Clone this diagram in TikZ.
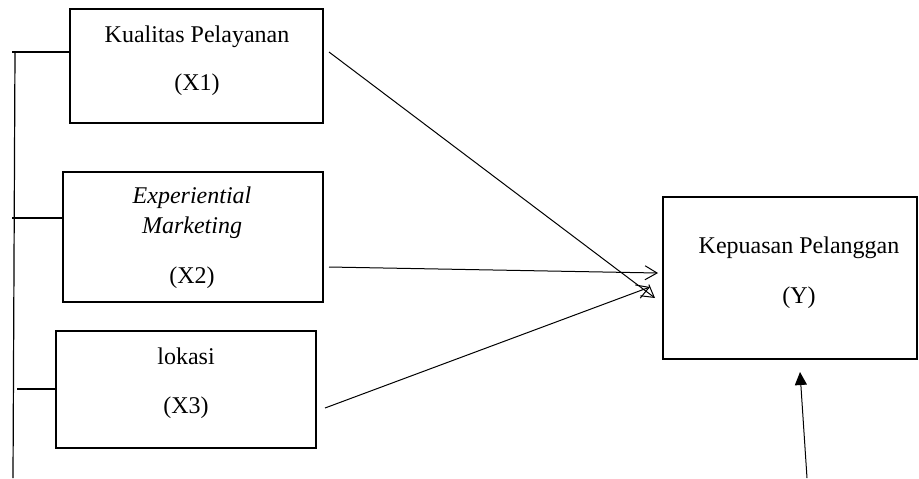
\documentclass[tikz,border=0pt]{standalone}
\usepackage{fontspec}
\setmainfont{Liberation Serif}
\usetikzlibrary{arrows.meta,calc}
\begin{document}
\begin{tikzpicture}[x=0.5pt,y=-0.5pt,
  box/.style={draw,line width=1pt,inner sep=0pt},
  txt/.style={anchor=base,inner sep=0pt,font=\fontsize{12}{14}\selectfont},
  conn/.style={line width=0.5pt,-{Straight Barb[length=6pt,width=7pt]}},
  up/.style={line width=0.5pt,-{Triangle[length=6.5pt,width=6pt]}},
  brk/.style={line width=0.6pt}]
\useasboundingbox (0,0) rectangle (919,478);
% boxes
\node[box,minimum width=126.5pt,minimum height=57pt] (x1) at (196.5,66) {};
\node[box,minimum width=130pt,minimum height=65pt] (x2) at (193,237) {};
\node[box,minimum width=130pt,minimum height=58.5pt] (x3) at (186,389.5) {};
\node[box,minimum width=127pt,minimum height=81pt] (y) at (790,278) {};
% texts
\node[txt] (t1a) at (197,42.7) {Kualitas Pelayanan};
\node[txt] (t1b) at (197,90.5) {(X1)};
\node[txt] (t2a) at (192,203) {\itshape Experiential};
\node[txt] (t2b) at (192,233) {\itshape Marketing};
\node[txt] (t2c) at (192,283) {(X2)};
\node[txt] (t3a) at (186,364) {lokasi};
\node[txt] (t3b) at (186,413) {(X3)};
\node[txt] (tya) at (799,253) {Kepuasan Pelanggan};
\node[txt] (tyb) at (799,303) {(Y)};
% bracket
\coordinate (bt) at (15,52);
\coordinate (bb) at (13,478);
\coordinate (h1) at (12,52);
\coordinate (h2) at (12,218);
\coordinate (h3) at (17,389);
\draw[brk] (bt) -- (bb);
\draw[brk] (h1) -- (h1 -| x1.west);
\draw[brk] (h2) -- (h2 -| x2.west);
\draw[brk] (h3) -- (h3 -| x3.west);
% arrows
\coordinate (s1) at (329,52);
\coordinate (e1) at (655,298);
\coordinate (s2) at (329,267);
\coordinate (e2) at (658,273);
\coordinate (s3) at (325,408);
\coordinate (e3) at (650,287);
\draw[conn] (s1) -- (e1);
\draw[conn] (s2) -- (e2);
\draw[conn] (s3) -- (e3);
\coordinate (sb) at (807,478);
\coordinate (eb) at (800,372);
\draw[up] (sb) -- (eb);
\end{tikzpicture}
\end{document}
